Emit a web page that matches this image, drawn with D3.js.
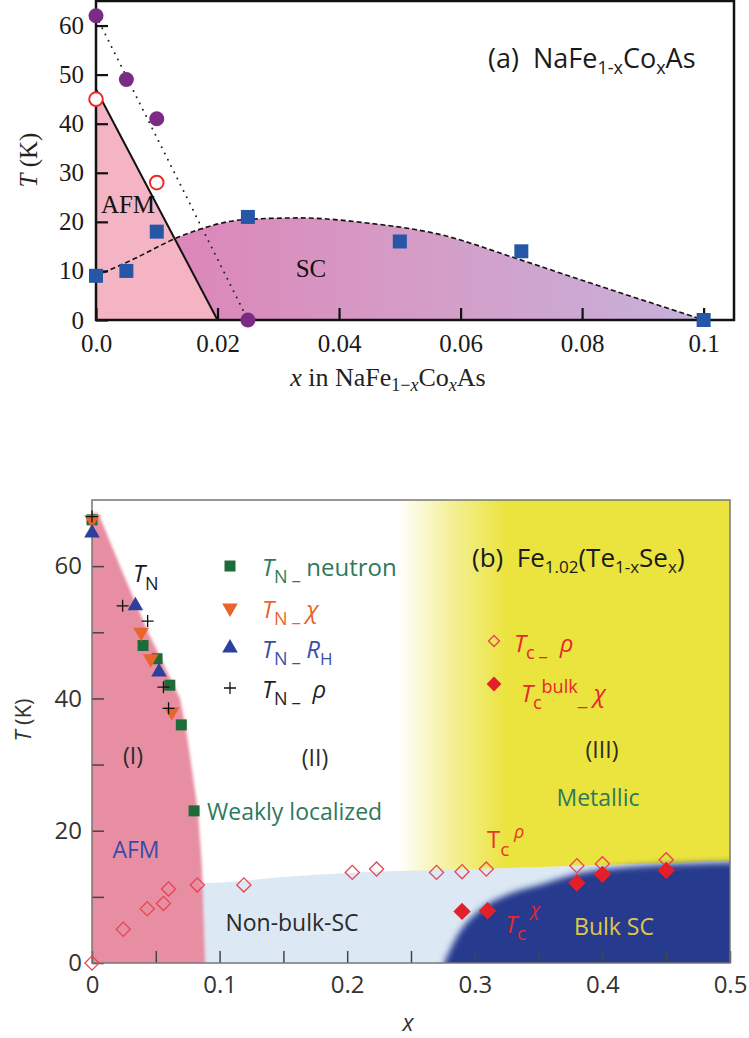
<!DOCTYPE html>
<meta charset="utf-8">
<style>
  body { margin: 0; background: #fff; }
  svg { display: block; }
  text { white-space: pre; }
  .serif { font-family: "Liberation Serif", "DejaVu Serif", serif; }
  .sans { font-family: "Open Sans", "Noto Sans", sans-serif; }
</style>
<body>
<svg id="chart" width="749" height="1038"></svg>
</body>
<script src="https://d3js.org/d3.v7.min.js"></script>
<script>
// ---------- panel (a) NaFe1-xCoxAs ----------
const aMagX = [0, 0.005, 0.01, 0.025];          // purple filled circles
const aMagT = [62, 49, 41, 0];
const aOpenX = [0, 0.01];                        // red open circles
const aOpenT = [45, 28];
const aScX = [0, 0.005, 0.01, 0.025, 0.05, 0.07, 0.1];   // blue squares
const aScT = [9, 10, 18, 21, 16, 14, 0];
const aAfmX = [0, 0.02];                         // solid AFM boundary
const aAfmT = [47, 0];
const aDotX = [0, 0.025];                        // dotted guide
const aDotT = [62, 0];
const aDomeX = [0, 0.006, 0.0138, 0.0248, 0.0335, 0.0451, 0.056, 0.07, 0.08, 0.0916, 0.1];
const aDomeT = [9, 12.3, 17, 20.5, 20.8, 19.7, 17.6, 12.2, 8.1, 3.4, 0];
const aXTicks = [0, 0.02, 0.04, 0.06, 0.08, 0.1];
const aXLabels = ["0.0", "0.02", "0.04", "0.06", "0.08", "0.1"];
const aYTicks = [0, 10, 20, 30, 40, 50, 60];

// ---------- panel (b) Fe1.02(Te1-xSex) ----------
const bNeutronX = [0, 0.04, 0.051, 0.061, 0.07, 0.08];
const bNeutronT = [67, 48, 46, 42, 36, 23];
const bChiX = [0, 0.0385, 0.046, 0.0625];
const bChiT = [67, 50, 46, 38];
const bRhX = [0, 0.034, 0.0525];
const bRhT = [65, 54, 44];
const bRhoX = [0, 0.024, 0.0436, 0.056, 0.06];
const bRhoT = [67.5, 54, 51.7, 41.7, 38.5];
const bTcRhoX = [0, 0.0245, 0.0433, 0.056, 0.06, 0.0825, 0.119, 0.204, 0.223, 0.27, 0.29, 0.309, 0.38, 0.40, 0.45];
const bTcRhoT = [0, 5.1, 8.2, 9.0, 11.2, 11.8, 11.8, 13.7, 14.2, 13.7, 13.8, 14.2, 14.7, 15.0, 15.6];
const bTcBulkX = [0.29, 0.31, 0.38, 0.40, 0.45];
const bTcBulkT = [7.8, 7.9, 12.1, 13.4, 14.0];
// phase region boundaries
const bAfmEdgeX = [0.005, 0.022, 0.044, 0.069, 0.074, 0.083, 0.086, 0.0886];
const bAfmEdgeT = [68, 60, 50, 40, 35, 23, 15, 0];
const bNonBulkX = [0.07, 0.09, 0.15, 0.2, 0.3, 0.4, 0.5];
const bNonBulkT = [12.1, 12.1, 13, 13.6, 14.2, 14.8, 15.4];
const bBulkX = [0.276, 0.286, 0.304, 0.328, 0.354, 0.38, 0.42, 0.5, 0.52];
const bBulkT = [0, 4, 8, 10.5, 12, 13.5, 14.5, 15.2, 15.3];
const bYellowFade = [0.24, 0.325];
const bXTicks = [0, 0.05, 0.1, 0.15, 0.2, 0.25, 0.3, 0.35, 0.4, 0.45, 0.5];
const bYTicks = [0, 10, 20, 30, 40, 50, 60];

const svg = d3.select("#chart");
const defs = svg.append("defs");

// rich text: parts = [{t, sub (px down), it, size, fill}]
function rich(g, x, y, parts, cls, size, fill, anchor) {
    const t = g.append("text").attr("class", cls).attr("x", x).attr("y", y)
        .attr("font-size", size).attr("fill", fill).attr("text-anchor", anchor || "start");
    let cur = 0;
    parts.forEach(p => {
        const off = p.sub || 0;
        const s = t.append("tspan").text(p.t).attr("dy", off - cur);
        cur = off;
        if (p.it) s.attr("font-style", "italic");
        if (p.size) s.attr("font-size", p.size);
        if (p.fill) s.attr("fill", p.fill);
    });
    return t;
}

// ================= panel (a) =================
const ax = d3.scaleLinear().domain([0, 0.105]).range([96, 734]);
const ay = d3.scaleLinear().domain([0, 65]).range([320, 1]);

const scGrad = defs.append("linearGradient").attr("id", "scGrad")
    .attr("gradientUnits", "userSpaceOnUse")
    .attr("x1", ax(0)).attr("x2", ax(0.1)).attr("y1", 0).attr("y2", 0);
scGrad.append("stop").attr("offset", 0).attr("stop-color", "#de7fb4");
scGrad.append("stop").attr("offset", 0.5).attr("stop-color", "#d59bc6");
scGrad.append("stop").attr("offset", 1).attr("stop-color", "#c6b2da");

const dome = aDomeX.map((d, i) => [d, aDomeT[i]]);
const gA = svg.append("g");

gA.append("path").datum(dome)
    .attr("d", d3.area().x(d => ax(d[0])).y0(ay(0)).y1(d => ay(d[1])).curve(d3.curveMonotoneX))
    .attr("fill", "url(#scGrad)");

const afmPoly = [[0, 0]].concat(aAfmX.map((d, i) => [d, aAfmT[i]]));
gA.append("path")
    .attr("d", d3.line().x(d => ax(d[0])).y(d => ay(d[1]))(afmPoly) + "Z")
    .attr("fill", "#f5b4c3");

gA.append("path").datum(dome)
    .attr("d", d3.line().x(d => ax(d[0])).y(d => ay(d[1])).curve(d3.curveMonotoneX))
    .attr("fill", "none").attr("stroke", "#111").attr("stroke-width", 1.6)
    .attr("stroke-dasharray", "5,3");

gA.append("path").datum(aAfmX.map((d, i) => [d, aAfmT[i]]))
    .attr("d", d3.line().x(d => ax(d[0])).y(d => ay(d[1])))
    .attr("fill", "none").attr("stroke", "#111").attr("stroke-width", 2);

gA.append("path").datum(aDotX.map((d, i) => [d, aDotT[i]]))
    .attr("d", d3.line().x(d => ax(d[0])).y(d => ay(d[1])))
    .attr("fill", "none").attr("stroke", "#222").attr("stroke-width", 2)
    .attr("stroke-linecap", "round").attr("stroke-dasharray", "0,7");

// axes
const axB = gA.append("g").attr("transform", `translate(0,${ay(0)})`)
    .call(d3.axisBottom(ax).tickValues(aXTicks).tickFormat((d, i) => aXLabels[i])
        .tickSize(-12).tickPadding(14).tickSizeOuter(0));
const axL = gA.append("g").attr("transform", `translate(${ax(0)},0)`)
    .call(d3.axisLeft(ay).tickValues(aYTicks).tickSize(-12).tickPadding(12).tickSizeOuter(0));
[axB, axL].forEach(g => {
    g.select(".domain").remove();
    g.selectAll(".tick line").attr("stroke", "#111").attr("stroke-width", 2.2);
    g.selectAll(".tick text").attr("class", "serif").attr("font-size", 25).attr("fill", "#1a1a1a");
});

gA.append("rect").attr("x", ax(0)).attr("y", ay(65))
    .attr("width", ax(0.105) - ax(0)).attr("height", ay(0) - ay(65))
    .attr("fill", "none").attr("stroke", "#111").attr("stroke-width", 2.5);

// markers
gA.selectAll(".mag").data(aMagX).enter().append("circle")
    .attr("cx", d => ax(d)).attr("cy", (d, i) => ay(aMagT[i])).attr("r", 7.5)
    .attr("fill", "#7b2a86");
gA.selectAll(".open").data(aOpenX).enter().append("circle")
    .attr("cx", d => ax(d)).attr("cy", (d, i) => ay(aOpenT[i])).attr("r", 6.8)
    .attr("fill", "#fff").attr("stroke", "#ec2a2a").attr("stroke-width", 2);
gA.selectAll(".sq").data(aScX).enter().append("path")
    .attr("d", d3.symbol().type(d3.symbolSquare).size(196))
    .attr("transform", (d, i) => `translate(${ax(d)},${ay(aScT[i])})`)
    .attr("fill", "#2557a6");

// labels
gA.append("text").attr("class", "serif").attr("x", 128).attr("y", 213)
    .attr("text-anchor", "middle").attr("font-size", 25).attr("fill", "#111").text("AFM");
gA.append("text").attr("class", "serif").attr("x", 311).attr("y", 277)
    .attr("text-anchor", "middle").attr("font-size", 25).attr("fill", "#111").text("SC");
rich(gA, 488, 68, [{t: "(a)  NaFe"}, {t: "1-x", sub: 6, size: 18}, {t: "Co"}, {t: "x", sub: 6, size: 18}, {t: "As"}],
    "sans", 27, "#1a1a1a");
rich(gA, 388, 386, [{t: "x", it: true}, {t: " in NaFe"}, {t: "1\u2212", sub: 5, size: 18}, {t: "x", sub: 5, size: 18, it: true},
    {t: "Co"}, {t: "x", sub: 5, size: 18, it: true}, {t: "As"}], "serif", 26, "#222", "middle");
rich(gA, 0, 0, [{t: "T", it: true}, {t: " (K)"}], "serif", 25, "#222", "middle")
    .attr("transform", "translate(37,160) rotate(-90)");

// ================= panel (b) =================
const bx = d3.scaleLinear().domain([0, 0.5]).range([92, 730]);
const by = d3.scaleLinear().domain([0, 70]).range([963, 500]);
const gB = svg.append("g");

defs.append("clipPath").attr("id", "clipB").append("rect")
    .attr("x", bx(0)).attr("y", by(70)).attr("width", bx(0.5) - bx(0)).attr("height", by(0) - by(70));
const soft = defs.append("filter").attr("id", "soft").attr("x", "-10%").attr("y", "-10%")
    .attr("width", "120%").attr("height", "120%");
soft.append("feGaussianBlur").attr("stdDeviation", 3.2);
const soft2 = defs.append("filter").attr("id", "soft2").attr("x", "-10%").attr("y", "-10%")
    .attr("width", "120%").attr("height", "120%");
soft2.append("feGaussianBlur").attr("stdDeviation", 1.4);

const yGrad = defs.append("linearGradient").attr("id", "yGrad")
    .attr("gradientUnits", "userSpaceOnUse")
    .attr("x1", bx(bYellowFade[0])).attr("x2", bx(bYellowFade[1])).attr("y1", 0).attr("y2", 0);
yGrad.append("stop").attr("offset", 0).attr("stop-color", "#ebe33e").attr("stop-opacity", 0);
yGrad.append("stop").attr("offset", 0.5).attr("stop-color", "#ebe33e").attr("stop-opacity", 0.55);
yGrad.append("stop").attr("offset", 1).attr("stop-color", "#ebe33e").attr("stop-opacity", 1);

const regions = gB.append("g").attr("clip-path", "url(#clipB)");
const nonBulk = bNonBulkX.map((d, i) => [d, bNonBulkT[i]]);
regions.append("path").datum(nonBulk)
    .attr("d", d3.area().x(d => bx(d[0])).y0(by(0)).y1(d => by(d[1])).curve(d3.curveMonotoneX))
    .attr("fill", "#dce8f4");
regions.append("path").datum(nonBulk.filter(d => d[0] >= 0.2))
    .attr("d", d3.area().x(d => bx(d[0])).y0(d => by(d[1])).y1(by(70)).curve(d3.curveMonotoneX))
    .attr("fill", "url(#yGrad)");
regions.append("path").datum(bBulkX.map((d, i) => [d, bBulkT[i]]))
    .attr("d", d3.area().x(d => bx(d[0])).y0(by(-4)).y1(d => by(d[1])).curve(d3.curveMonotoneX))
    .attr("fill", "#263a8e").attr("filter", "url(#soft)");
const afmB = [[-0.02, -4], [-0.02, bAfmEdgeT[0]]].concat(bAfmEdgeX.map((d, i) => [d, bAfmEdgeT[i]]))
    .concat([[bAfmEdgeX[bAfmEdgeX.length - 1], -4]]);
regions.append("path")
    .attr("d", d3.line().x(d => bx(d[0])).y(d => by(d[1]))(afmB) + "Z")
    .attr("fill", "#e78ea2").attr("filter", "url(#soft2)");

// axes
const bxB = gB.append("g").attr("transform", `translate(0,${by(0)})`)
    .call(d3.axisBottom(bx).tickValues(bXTicks)
        .tickFormat(d => (Math.round(d * 100) % 10 === 0 ? d3.format("")(+d.toFixed(1)) : ""))
        .tickSize(-12).tickPadding(13).tickSizeOuter(0));
const byL = gB.append("g").attr("transform", `translate(${bx(0)},0)`)
    .call(d3.axisLeft(by).tickValues(bYTicks)
        .tickFormat(d => (d % 20 === 0 ? d : "")).tickSize(-12).tickPadding(10).tickSizeOuter(0));
[bxB, byL].forEach(g => {
    g.select(".domain").remove();
    g.selectAll(".tick line").attr("stroke", "#444").attr("stroke-width", 1.5);
    g.selectAll(".tick text").attr("class", "sans").attr("font-size", 24).attr("fill", "#333");
});
gB.append("rect").attr("x", bx(0)).attr("y", by(70))
    .attr("width", bx(0.5) - bx(0)).attr("height", by(0) - by(70))
    .attr("fill", "none").attr("stroke", "#777").attr("stroke-width", 1.5);

// markers
const sqPath = d3.symbol().type(d3.symbolSquare).size(121)();
const triPath = d3.symbol().type(d3.symbolTriangle).size(105)();
gB.selectAll(".neu").data(bNeutronX).enter().append("path")
    .attr("d", sqPath).attr("transform", (d, i) => `translate(${bx(d)},${by(bNeutronT[i])})`)
    .attr("fill", "#1e6b3a");
gB.selectAll(".chi").data(bChiX).enter().append("path")
    .attr("d", triPath).attr("transform", (d, i) => `translate(${bx(d)},${by(bChiT[i])}) rotate(180)`)
    .attr("fill", "#e8652b");
gB.selectAll(".rh").data(bRhX).enter().append("path")
    .attr("d", triPath).attr("transform", (d, i) => `translate(${bx(d)},${by(bRhT[i])})`)
    .attr("fill", "#2b3f9c");
gB.selectAll(".rho").data(bRhoX).enter().append("path")
    .attr("d", "M-6,0H6M0,-6V6").attr("transform", (d, i) => `translate(${bx(d)},${by(bRhoT[i])})`)
    .attr("stroke", "#111").attr("stroke-width", 1.3).attr("fill", "none");
gB.selectAll(".tcr").data(bTcRhoX).enter().append("path")
    .attr("d", d3.symbol().type(d3.symbolSquare).size(100))
    .attr("transform", (d, i) => `translate(${bx(d)},${by(bTcRhoT[i])}) rotate(45)`)
    .attr("fill", "none").attr("stroke", "#e84450").attr("stroke-width", 1.3);
gB.selectAll(".tcb").data(bTcBulkX).enter().append("path")
    .attr("d", d3.symbol().type(d3.symbolSquare).size(150))
    .attr("transform", (d, i) => `translate(${bx(d)},${by(bTcBulkT[i])}) rotate(45)`)
    .attr("fill", "#e3202a");

// legend
const legend = [
    {y: 566, mark: "sq", col: "#1e6b3a", tcol: "#2d7a5c", tail: [{t: " neutron"}]},
    {y: 608, mark: "down", col: "#e8652b", tcol: "#e8652b", tail: [{t: " "}, {t: "\u03c7", it: true}]},
    {y: 648, mark: "up", col: "#2b3f9c", tcol: "#3a50a6", tail: [{t: " "}, {t: "R", it: true}, {t: "H", sub: 7, size: 17}]},
    {y: 688, mark: "plus", col: "#111", tcol: "#222", tail: [{t: "  "}, {t: "\u03c1", it: true}]}
];
legend.forEach(l => {
    const m = gB.append("path").attr("transform", `translate(230,${l.y})` + (l.mark === "down" ? " rotate(180)" : ""));
    if (l.mark === "sq") m.attr("d", sqPath).attr("fill", l.col);
    else if (l.mark === "plus") m.attr("d", "M-6,0H6M0,-6V6").attr("stroke", l.col).attr("stroke-width", 1.3);
    else m.attr("d", triPath).attr("fill", l.col);
    rich(gB, 262, l.y + 10, [{t: "T", it: true}, {t: "N ", sub: 7, size: 18}, {t: "_", sub: 3, size: 18}].concat(l.tail),
        "sans", 24, l.tcol);
});
gB.append("path").attr("d", d3.symbol().type(d3.symbolSquare).size(60))
    .attr("transform", "translate(494,641) rotate(45)")
    .attr("fill", "none").attr("stroke", "#e84450").attr("stroke-width", 1.3);
rich(gB, 514, 652, [{t: "T", it: true}, {t: "c ", sub: 7, size: 18}, {t: "_", sub: 3, size: 18}, {t: "  "}, {t: "\u03c1", it: true}],
    "sans", 24, "#e8262e");
gB.append("path").attr("d", d3.symbol().type(d3.symbolSquare).size(110))
    .attr("transform", "translate(494,684) rotate(45)").attr("fill", "#e3202a");
rich(gB, 521, 702, [{t: "T", it: true}, {t: "c", sub: 7, size: 18}, {t: "bulk", sub: -9, size: 18}, {t: "_", sub: 3, size: 22},
    {t: " "}, {t: "\u03c7", it: true}], "sans", 24, "#e8262e");

// titles and region labels
rich(gB, 472, 567, [{t: "(b)  Fe"}, {t: "1.02", sub: 6, size: 17}, {t: "(Te"}, {t: "1-x", sub: 6, size: 17},
    {t: "Se"}, {t: "x", sub: 6, size: 17}, {t: ")"}], "sans", 26, "#1a1a1a");
rich(gB, 133, 582, [{t: "T", it: true}, {t: "N", sub: 8, size: 18}], "sans", 24, "#1a1a1a");
const lbl = (x, y, s, col, anchor) => gB.append("text").attr("class", "sans").attr("x", x).attr("y", y)
    .attr("font-size", 23).attr("fill", col).attr("text-anchor", anchor || "middle").text(s);
lbl(133, 764, "(I)", "#2a2a2a");
lbl(315, 766, "(II)", "#2a2a2a");
lbl(602, 758, "(III)", "#2a2a2a");
lbl(598, 806, "Metallic", "#2d7a5c");
lbl(207, 820, "Weakly localized", "#2d7a5c", "start");
lbl(136, 858, "AFM", "#3a4aa8");
lbl(292, 931, "Non-bulk-SC", "#2a2a2a");
lbl(614, 935, "Bulk SC", "#e2c54c");
rich(gB, 487, 848, [{t: "T"}, {t: "c", sub: 8, size: 19}, {t: " \u03c1", sub: -10, size: 18, it: true}], "sans", 24, "#e8352c");
rich(gB, 505, 933, [{t: "T", it: true}, {t: "c", sub: 7, size: 19}, {t: " \u03c7", sub: -17, size: 18, it: true}], "sans", 24, "#e8262e");

// axis titles
rich(gB, 408, 1031, [{t: "x", it: true}], "sans", 23, "#333", "middle");
rich(gB, 0, 0, [{t: "T", it: true}, {t: " (K)"}], "sans", 22, "#333", "middle")
    .attr("transform", "translate(31,720) rotate(-90)");
</script>
